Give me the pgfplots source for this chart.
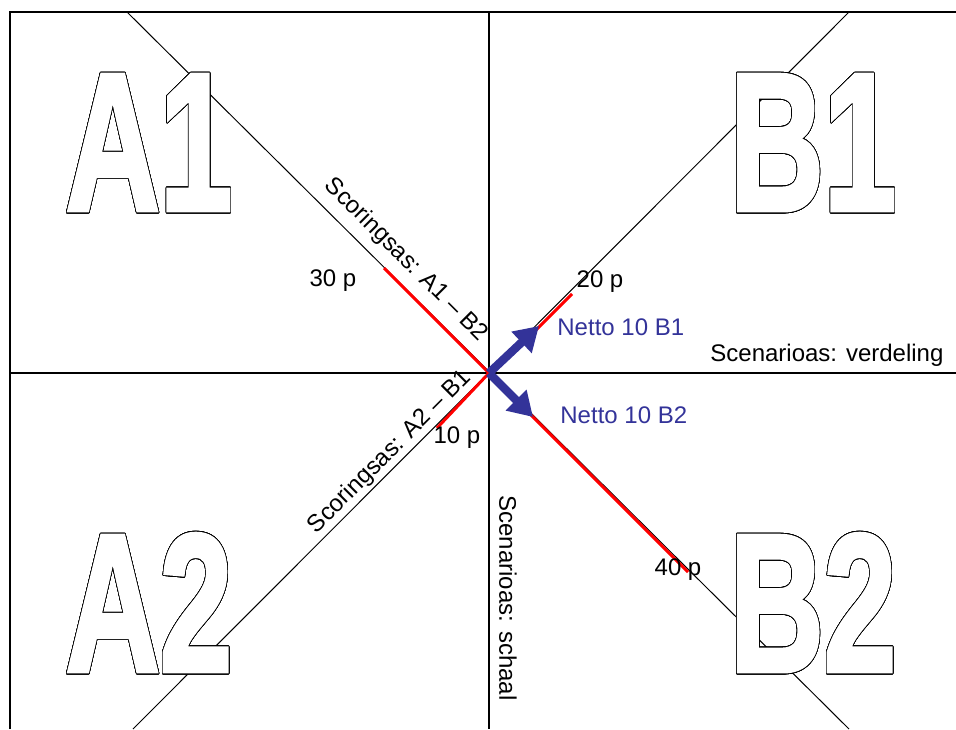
\documentclass[border=0pt]{standalone}
\usepackage{pgfplots}
\pgfplotsset{compat=1.18}
\usepackage{fontspec}
\setmainfont{Liberation Sans}
\newfontfamily\heavyfont[FakeBold=2.5]{Liberation Sans Bold}
\usepackage[copies]{contour}
\usetikzlibrary{arrows.meta}
\contourlength{0.45pt}
\contournumber{32}
\definecolor{netblue}{RGB}{51,51,153}

% big outlined letters: white glyphs with a thin black contour
\newcommand{\bigtag}[1]{\heavyfont\fontsize{98}{98}\selectfont\scalebox{0.665}[1]{{\color{white}\contour{black}{#1}}}}
\tikzset{lbl/.style={font=\fontsize{12}{14}\selectfont, inner sep=0pt}}

\begin{document}
\begin{tikzpicture}
\begin{axis}[
   width=478pt, height=364.5pt, scale only axis,
   xmin=0, xmax=956, ymin=0, ymax=729,
   y dir=reverse, hide axis,
   ]
%% keep the full page area
\addplot[draw=none] coordinates {(0,0) (956,729)};
%% diagonals (scoring axes)
\addplot[black, line width=0.5pt] coordinates {(127,12) (849,729)};
\addplot[black, line width=0.5pt] coordinates {(849,12) (133,729)};
%% quadrant labels
\node[anchor=base, inner sep=0pt] at (axis cs:149,210) {\bigtag{A1}};
\node[anchor=base, inner sep=0pt] at (axis cs:813,210) {\bigtag{B1}};
\node[anchor=base, inner sep=0pt] at (axis cs:149,671) {\bigtag{A2}};
\node[anchor=base, inner sep=0pt] at (axis cs:813,671) {\bigtag{B2}};
%% frame
\addplot[black, line width=1.3pt] coordinates {(10,729) (10,12) (956,12)};
%% scenario axes
\addplot[black, line width=0.7pt] coordinates {(10,373) (956,373)};
\addplot[black, line width=0.7pt] coordinates {(489,12) (489,729)};
%% scores
\addplot[red, line width=1.5pt] coordinates {(384,268) (489,373)};
\addplot[red, line width=1.5pt] coordinates {(489,373) (437,428)};
\addplot[red, line width=1.5pt] coordinates {(536,330) (572,294)};
\addplot[red, line width=1.5pt] coordinates {(528,412) (688,572)};
%% net result
\addplot[netblue, line width=4.2pt, -{Triangle[length=12pt,width=14pt]}] coordinates {(489,373) (539,326)};
\addplot[netblue, line width=4.2pt, -{Triangle[length=12pt,width=14pt]}] coordinates {(489,373) (533,417)};
%% texts
\node[lbl] at (axis cs:333,281) {30 p};
\node[lbl] at (axis cs:600,282) {20 p};
\node[lbl] at (axis cs:457,438) {10 p};
\node[lbl] at (axis cs:678,570) {40 p};
\node[lbl, anchor=west, text=netblue] at (axis cs:557,327) {Netto 10 B1};
\node[lbl, anchor=west, text=netblue] at (axis cs:560,415) {Netto 10 B2};
\node[lbl, anchor=west] at (axis cs:710,355) {Scenarioas: verdeling};
\node[lbl, rotate=-90] at (axis cs:508,598) {Scenarioas: schaal};
\node[lbl, rotate=-45] at (axis cs:406,260) {Scoringsas: A1 -- B2};
\node[lbl, rotate=45] at (axis cs:390,452) {Scoringsas: A2 -- B1};
\end{axis}
\end{tikzpicture}
\end{document}
